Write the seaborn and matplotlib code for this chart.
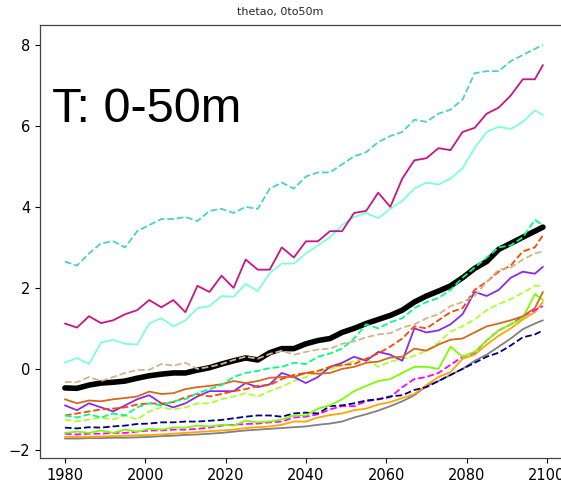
import numpy as np
import pandas as pd
import matplotlib
matplotlib.use("Agg")
import matplotlib.pyplot as plt
import seaborn as sns

YEARS = list(range(1980, 2098, 3)) + [2099]

cyan_dash = [2.65,2.55,2.85,3.1,3.15,3.0,3.4,3.55,3.7,3.7,3.75,3.65,3.9,3.95,3.85,4.0,3.95,4.45,4.6,4.45,4.75,4.85,4.85,5.05,5.25,5.35,5.6,5.75,5.85,6.15,6.1,6.3,6.4,6.65,7.3,7.35,7.35,7.6,7.75,7.9,8.0]
violetred = [1.12,1.02,1.3,1.13,1.2,1.35,1.45,1.7,1.52,1.7,1.4,2.05,1.9,2.3,2.0,2.7,2.45,2.45,3.0,2.75,3.15,3.15,3.4,3.4,3.85,3.9,4.35,4.0,4.7,5.15,5.2,5.45,5.4,5.85,5.95,6.3,6.45,6.75,7.15,7.15,7.5]
aquamarine = [0.15,0.27,0.12,0.65,0.72,0.62,0.6,1.12,1.25,1.05,1.2,1.5,1.55,1.8,1.78,2.1,1.92,2.37,2.6,2.6,2.85,3.05,3.25,3.55,3.75,3.85,3.72,3.95,4.15,4.45,4.6,4.55,4.7,4.95,5.45,5.85,5.98,5.92,6.1,6.38,6.27]
mean_black = [-0.47,-0.48,-0.4,-0.35,-0.33,-0.3,-0.23,-0.17,-0.13,-0.1,-0.1,-0.03,0.03,0.12,0.2,0.27,0.22,0.4,0.5,0.5,0.62,0.7,0.75,0.9,1.0,1.12,1.22,1.32,1.45,1.65,1.8,1.92,2.05,2.25,2.48,2.65,2.95,3.1,3.25,3.4,3.5]
tan_dash = [-0.32,-0.33,-0.2,-0.3,-0.2,-0.1,-0.03,-0.02,0.12,0.08,0.15,0.0,0.05,0.12,0.22,0.3,0.25,0.37,0.45,0.35,0.42,0.48,0.5,0.62,0.68,0.78,0.85,0.88,1.02,1.1,1.25,1.35,1.55,1.65,1.8,2.15,2.45,2.5,2.7,2.85,2.9]
spring_dash = [-1.15,-1.2,-1.12,-1.2,-1.1,-1.15,-0.95,-0.85,-0.9,-0.8,-0.75,-0.6,-0.5,-0.4,-0.2,-0.1,-0.05,0.02,0.05,0.15,0.12,0.3,0.38,0.5,0.75,1.1,1.0,1.15,1.25,1.5,1.65,1.75,1.95,2.25,2.5,2.75,3.0,3.05,3.25,3.68,3.55]
orangered_dash = [-1.15,-1.1,-1.05,-1.0,-0.98,-0.95,-0.88,-0.85,-0.86,-0.82,-0.7,-0.62,-0.68,-0.62,-0.55,-0.5,-0.42,-0.4,-0.25,-0.15,-0.1,-0.05,0.05,0.1,0.12,0.25,0.38,0.55,0.75,1.05,1.0,1.2,1.4,1.5,1.95,2.15,2.4,2.55,2.9,3.0,3.3]
chocolate = [-0.75,-0.85,-0.78,-0.8,-0.75,-0.72,-0.68,-0.56,-0.62,-0.6,-0.5,-0.45,-0.42,-0.38,-0.3,-0.35,-0.3,-0.22,-0.2,-0.2,-0.1,-0.12,-0.1,0.0,0.05,0.15,0.18,0.28,0.3,0.5,0.45,0.6,0.72,0.75,0.9,1.05,1.12,1.2,1.3,1.5,1.9]
blueviolet = [-0.9,-1.02,-0.85,-0.95,-1.05,-0.9,-0.75,-0.65,-0.85,-0.95,-0.85,-0.68,-0.55,-0.55,-0.55,-0.35,-0.45,-0.38,-0.1,-0.2,-0.35,-0.2,0.05,0.15,0.3,0.2,0.42,0.35,0.2,1.0,0.9,0.95,1.1,1.35,1.9,1.8,1.95,2.25,2.4,2.35,2.52]
greenyellow_dash = [-1.25,-1.3,-1.25,-1.2,-1.25,-1.15,-1.25,-1.05,-0.95,-1.0,-0.95,-0.85,-0.85,-0.75,-0.68,-0.6,-0.68,-0.55,-0.44,-0.3,-0.2,-0.07,0.0,0.08,0.2,0.25,0.05,0.18,0.25,0.32,0.45,0.65,0.92,1.05,1.22,1.45,1.6,1.72,1.88,2.05,2.05]
lawngreen = [-1.58,-1.55,-1.58,-1.52,-1.58,-1.5,-1.55,-1.48,-1.5,-1.45,-1.45,-1.4,-1.42,-1.38,-1.4,-1.28,-1.32,-1.3,-1.25,-1.15,-1.15,-0.98,-0.9,-0.75,-0.55,-0.42,-0.3,-0.25,-0.1,0.05,0.05,0.0,0.55,0.3,0.42,0.7,0.95,1.1,1.25,1.85,1.7]
navy_dash = [-1.45,-1.47,-1.44,-1.45,-1.42,-1.4,-1.36,-1.35,-1.32,-1.32,-1.3,-1.3,-1.28,-1.26,-1.22,-1.18,-1.15,-1.15,-1.18,-1.1,-1.08,-1.1,-0.92,-0.9,-0.85,-0.78,-0.75,-0.68,-0.65,-0.52,-0.45,-0.3,-0.15,0.0,0.15,0.3,0.4,0.58,0.78,0.85,0.95]
magenta_dash = [-1.6,-1.62,-1.6,-1.6,-1.58,-1.58,-1.55,-1.52,-1.52,-1.5,-1.5,-1.48,-1.45,-1.4,-1.38,-1.36,-1.35,-1.32,-1.3,-1.2,-1.18,-1.12,-1.0,-0.92,-0.92,-0.8,-0.75,-0.7,-0.45,-0.25,-0.2,-0.1,0.1,0.3,0.4,0.7,0.95,1.1,1.3,1.45,1.55]
orange = [-1.68,-1.68,-1.68,-1.67,-1.66,-1.65,-1.64,-1.63,-1.62,-1.6,-1.58,-1.56,-1.54,-1.52,-1.5,-1.46,-1.44,-1.42,-1.38,-1.3,-1.3,-1.2,-1.14,-1.1,-1.02,-0.98,-0.88,-0.82,-0.72,-0.62,-0.4,-0.2,-0.08,0.25,0.35,0.6,0.82,1.0,1.22,1.4,1.65]
gray = [-1.72,-1.72,-1.71,-1.71,-1.7,-1.7,-1.69,-1.68,-1.66,-1.65,-1.63,-1.62,-1.6,-1.58,-1.55,-1.52,-1.5,-1.48,-1.46,-1.44,-1.42,-1.38,-1.35,-1.3,-1.2,-1.12,-1.03,-0.92,-0.8,-0.65,-0.42,-0.3,-0.15,0.0,0.2,0.35,0.55,0.75,0.98,1.12,1.2]

TITLE = "thetao, 0to50m"
LABEL = "T: 0-50m"
XTICKS = [1980, 2000, 2020, 2040, 2060, 2080, 2100]
YTICKS = [-2, 0, 2, 4, 6, 8]

sns.set_style("ticks")
plt.rcParams["font.family"] = ["DejaVu Sans"]

fig = plt.figure(figsize=(5.61, 4.87), dpi=100)
ax = fig.add_axes([40/561, 1 - 458/487, 527/561, 433/487])

# (series, color, linestyle, linewidth) -- black mean drawn first
series = [
    (mean_black, "black", "-", 4.0),
    (gray, "gray", "-", 1.3),
    (orange, "orange", "-", 1.3),
    (magenta_dash, "magenta", "--", 1.3),
    (navy_dash, "navy", "--", 1.3),
    (lawngreen, "lawngreen", "-", 1.3),
    (greenyellow_dash, "greenyellow", "--", 1.3),
    (blueviolet, "blueviolet", "-", 1.3),
    (chocolate, "chocolate", "-", 1.3),
    (orangered_dash, "orangered", "--", 1.3),
    (spring_dash, "springgreen", "--", 1.3),
    (tan_dash, "tan", "--", 1.3),
    (aquamarine, "aquamarine", "-", 1.3),
    (violetred, "mediumvioletred", "-", 1.3),
    (cyan_dash, "mediumturquoise", "--", 1.3),
]

for vals, col, ls, lw in series:
    df = pd.DataFrame({"year": YEARS, "value": vals})
    sns.lineplot(data=df, x="year", y="value", color=col, linestyle=ls,
                 linewidth=lw, ax=ax, estimator=None, sort=False)

ax.set_xlim(1973.8, 2105)
ax.set_ylim(-2.2, 8.49)
ax.set_xticks(XTICKS)
ax.set_yticks(YTICKS)
ax.set_xlabel("")
ax.set_ylabel("")
ax.tick_params(labelsize=10.5, direction="out", length=3.5, width=0.8, colors="black")
for sp in ax.spines.values():
    sp.set_color("#444444")
    sp.set_linewidth(0.9)
ax.spines["right"].set_visible(False)

ax.text(0.023, 0.776, LABEL, transform=ax.transAxes, ha="left", va="baseline",
        fontsize=35, family=["Liberation Sans", "DejaVu Sans"], color="black")

fig.text(0.5, 1 - 12/487, TITLE, ha="center", va="center", fontsize=8)

fig.savefig("out.png", dpi=100)
